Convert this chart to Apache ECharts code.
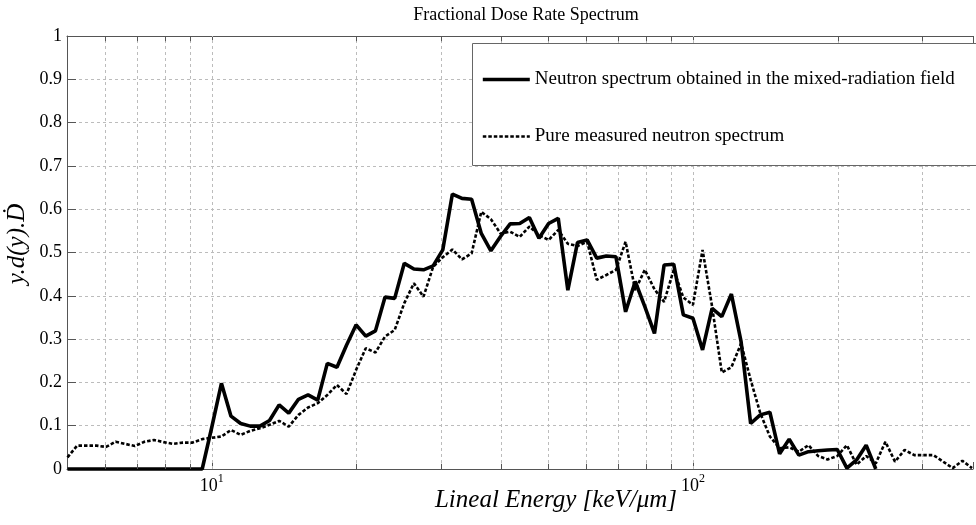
<!DOCTYPE html>
<html>
<head>
<meta charset="utf-8">
<script src="https://cdn.jsdelivr.net/npm/echarts@6/dist/echarts.min.js"></script>
<style>
  html, body { margin: 0; padding: 0; background: #ffffff; }
  #chart { width: 976px; height: 525px; }
</style>
</head>
<body>
<div id="chart"></div>
<script>
// Lineal energy bin centres (keV/um), 50 bins per decade
const lineal = [
  5.012, 5.248, 5.495, 5.754, 6.026, 6.310, 6.607, 6.918, 7.244, 7.586,
  7.943, 8.318, 8.710, 9.120, 9.550,
  10.00, 10.47, 10.96, 11.48, 12.02, 12.59, 13.18, 13.80, 14.45, 15.14,
  15.85, 16.60, 17.38, 18.20, 19.05, 19.95, 20.89, 21.88, 22.91, 23.99,
  25.12, 26.30, 27.54, 28.84, 30.20, 31.62, 33.11, 34.67, 36.31, 38.02,
  39.81, 41.69, 43.65, 45.71, 47.86, 50.12, 52.48, 54.95, 57.54, 60.26,
  63.10, 66.07, 69.18, 72.44, 75.86, 79.43, 83.18, 87.10, 91.20, 95.50,
  100.0, 104.7, 109.6, 114.8, 120.2, 125.9, 131.8, 138.0, 144.5, 151.4,
  158.5, 166.0, 173.8, 182.0, 190.5, 199.5, 208.9, 218.8, 229.1, 239.9,
  251.2, 263.0, 275.4, 288.4, 302.0, 316.2, 331.1, 346.7, 363.1, 380.2
];

// y.d(y).D-dot, neutron spectrum obtained in the mixed-radiation field
const mixedField = [
  0, 0, 0, 0, 0, 0, 0, 0, 0, 0,
  0, 0, 0, 0, 0,
  0.097, 0.198, 0.122, 0.105, 0.099, 0.099, 0.112, 0.148, 0.129, 0.161,
  0.171, 0.159, 0.244, 0.235, 0.286, 0.333, 0.307, 0.319, 0.397, 0.394,
  0.475, 0.462, 0.460, 0.469, 0.506, 0.635, 0.625, 0.623, 0.544, 0.504,
  0.537, 0.566, 0.567, 0.581, 0.533, 0.567, 0.579, 0.413, 0.523, 0.529,
  0.487, 0.492, 0.490, 0.363, 0.433, 0.375, 0.313, 0.471, 0.473, 0.356,
  0.348, 0.275, 0.371, 0.352, 0.404, 0.294, 0.105, 0.125, 0.131, 0.035,
  0.069, 0.032, 0.040, 0.042, 0.044, 0.045, 0.002, 0.021, 0.055, 0.000
];

// y.d(y).D-dot, pure measured neutron spectrum
const pureMeasured = [
  0.027, 0.054, 0.054, 0.054, 0.051, 0.063, 0.058, 0.053, 0.063, 0.067,
  0.062, 0.058, 0.061, 0.061, 0.069,
  0.072, 0.075, 0.090, 0.079, 0.088, 0.094, 0.102, 0.111, 0.098, 0.125,
  0.142, 0.152, 0.171, 0.194, 0.173, 0.229, 0.279, 0.269, 0.306, 0.321,
  0.383, 0.429, 0.398, 0.467, 0.489, 0.507, 0.484, 0.498, 0.594, 0.577,
  0.544, 0.548, 0.536, 0.560, 0.540, 0.529, 0.552, 0.520, 0.515, 0.525,
  0.437, 0.448, 0.460, 0.525, 0.413, 0.460, 0.415, 0.386, 0.460, 0.396,
  0.379, 0.506, 0.375, 0.223, 0.235, 0.290, 0.206, 0.129, 0.075, 0.048,
  0.050, 0.040, 0.055, 0.030, 0.022, 0.030, 0.055, 0.010, 0.030, 0.013,
  0.063, 0.017, 0.044, 0.032, 0.032, 0.032, 0.017, 0.002, 0.019, 0.002
];

const seriesNames = [
  'Neutron spectrum obtained in the mixed-radiation field',
  'Pure measured neutron spectrum'
];

// Log-axis grid positions (decades and the values between them)
const majorX = [10, 100];
const minorX = [6, 7, 8, 9, 20, 30, 40, 50, 60, 70, 80, 90, 200, 300];
const xRange = [5, 382];

const SERIF = '"Liberation Serif", "Times New Roman", "DejaVu Serif", serif';
const AXIS_COLOR = '#555555';
const GRID_COLOR = '#bcbcbc';

const chart = echarts.init(document.getElementById('chart'), null, { renderer: 'canvas' });

const pairs = (ys) => ys.map((v, i) => [lineal[i], v]);

// short tick marks drawn inside the box at the minor log positions
const minorTickSegments = [];
minorX.forEach(v => {
  minorTickSegments.push([{ coord: [v, 0] }, { coord: [v, 0.012] }]);
  minorTickSegments.push([{ coord: [v, 1] }, { coord: [v, 0.988] }]);
});

const option = {
  animation: false,
  backgroundColor: '#ffffff',
  grid: { left: 67, top: 36, right: 0, bottom: 56, containLabel: false },
  legend: {
    orient: 'vertical',
    left: 472,
    top: 43,
    padding: [27, 20, 20, 9],
    itemWidth: 47,
    itemHeight: 14,
    itemGap: 38,
    borderWidth: 0,
    backgroundColor: 'transparent',
    selectedMode: false,
    lineStyle: { width: 'inherit' },
    itemStyle: { color: 'rgba(0,0,0,0)', borderWidth: 0, opacity: 0 },
    textStyle: { fontFamily: SERIF, fontSize: 19, color: '#000000' },
    data: seriesNames
  },
  xAxis: [
    {
      type: 'log',
      logBase: 10,
      min: xRange[0],
      max: xRange[1],
      position: 'bottom',
      axisLine: { show: true, lineStyle: { color: AXIS_COLOR, width: 1 } },
      axisTick: { show: true, inside: true, length: 7, lineStyle: { color: AXIS_COLOR } },
      splitLine: { show: false },
      axisLabel: {
        show: true,
        margin: 6,
        formatter: function (v) {
          const e = Math.round(Math.log10(v));
          if (Math.abs(Math.pow(10, e) - v) > 1e-6 * v) return '';
          return '{b|10}{s|' + e + '}';
        },
        rich: {
          b: { fontFamily: SERIF, fontSize: 18, color: '#000', lineHeight: 18, padding: [5, 0, 0, 0] },
          s: { fontFamily: SERIF, fontSize: 12, color: '#000', lineHeight: 12, padding: [0, 0, 11, 0] }
        }
      }
    },
    {
      type: 'log',
      logBase: 10,
      min: xRange[0],
      max: xRange[1],
      position: 'top',
      axisLine: { show: true, lineStyle: { color: AXIS_COLOR, width: 1 } },
      axisTick: { show: true, inside: true, length: 7, lineStyle: { color: AXIS_COLOR } },
      axisLabel: { show: false },
      splitLine: { show: false }
    }
  ],
  yAxis: {
    type: 'value',
    min: 0,
    max: 1,
    interval: 0.1,
    axisLine: { show: true, lineStyle: { color: AXIS_COLOR, width: 1 } },
    axisTick: { show: true, inside: true, length: 9, lineStyle: { color: AXIS_COLOR } },
    axisLabel: { margin: 5, fontFamily: SERIF, fontSize: 18, color: '#000' },
    splitLine: { show: true, lineStyle: { color: GRID_COLOR, width: 1, type: [3, 3] } }
  },
  series: [
    {
      name: 'verticalGrid',
      type: 'line',
      data: [],
      silent: true,
      markLine: {
        silent: true,
        z: 1,
        symbol: ['none', 'none'],
        label: { show: false },
        lineStyle: { color: GRID_COLOR, width: 1, type: [3, 3] },
        data: majorX.concat(minorX).map(v => ({ xAxis: v }))
      }
    },
    {
      name: 'minorTicks',
      type: 'line',
      data: [],
      silent: true,
      markLine: {
        silent: true,
        z: 6,
        symbol: ['none', 'none'],
        label: { show: false },
        lineStyle: { color: AXIS_COLOR, width: 1, type: 'solid' },
        data: minorTickSegments
      }
    },
    {
      name: seriesNames[1],
      type: 'line',
      data: pairs(pureMeasured),
      showSymbol: false,
      symbol: 'none',
      clip: false,
      z: 3,
      lineStyle: { color: '#000000', width: 2.6, type: [3.5, 2] },
      itemStyle: { color: '#000000' }
    },
    {
      name: seriesNames[0],
      type: 'line',
      data: pairs(mixedField),
      showSymbol: false,
      symbol: 'none',
      clip: false,
      z: 4,
      lineStyle: { color: '#000000', width: 3.6, type: 'solid' },
      itemStyle: { color: '#000000' }
    }
  ],
  graphic: [
    {
      // white legend panel
      type: 'rect',
      z: 3,
      silent: true,
      shape: { x: 472.5, y: 43.5, width: 600, height: 122 },
      style: { fill: '#ffffff', stroke: null, lineWidth: 0 }
    },
    {
      // legend frame: top, left and bottom edges; the panel runs off the page on the right
      type: 'polyline',
      z: 3,
      silent: true,
      shape: { points: [[1100, 43.5], [472.5, 43.5], [472.5, 165.5], [1100, 165.5]] },
      style: { fill: null, stroke: '#666666', lineWidth: 1 }
    },
    {
      type: 'text',
      x: 526, y: 15,
      style: {
        text: 'Fractional Dose Rate Spectrum',
        fill: '#000',
        font: '18px ' + SERIF,
        textAlign: 'center',
        textVerticalAlign: 'middle'
      }
    },
    {
      type: 'text',
      x: 556, y: 500,
      style: {
        text: 'Lineal Energy [keV/\u03bcm]',
        fill: '#000',
        font: 'italic 25px ' + SERIF,
        textAlign: 'center',
        textVerticalAlign: 'middle'
      }
    },
    {
      type: 'text',
      x: 17, y: 244,
      rotation: Math.PI / 2,
      style: {
        text: 'y.d(y).\u1E0A',
        fill: '#000',
        font: 'italic 25px ' + SERIF,
        textAlign: 'center',
        textVerticalAlign: 'middle'
      }
    }
  ]
};

chart.setOption(option);
</script>
</body>
</html>
